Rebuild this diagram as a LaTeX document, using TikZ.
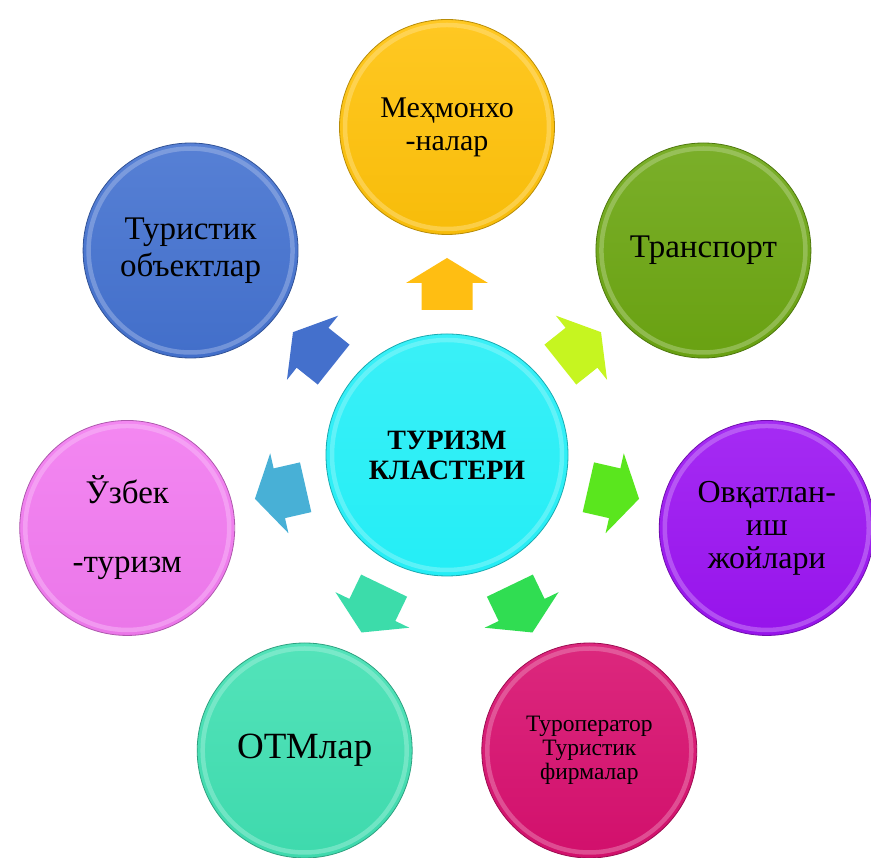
\documentclass[tikz,border=0pt]{standalone}
\usepackage{fontspec}
\newfontfamily\labfont{Liberation Serif}
\definecolor{cCenter}{HTML}{24EEF6}
\definecolor{cYellow}{HTML}{FFC20A}
\definecolor{cOlive}{HTML}{6CA612}
\definecolor{cPurple}{HTML}{9B14F2}
\definecolor{cMagenta}{HTML}{D8106F}
\definecolor{cTeal}{HTML}{40E0B2}
\definecolor{cPink}{HTML}{F27AF0}
\definecolor{cBlue}{HTML}{4472D0}
\definecolor{aYellow}{HTML}{FFBE12}
\definecolor{aLime}{HTML}{C6F520}
\definecolor{aGreen}{HTML}{5AE61E}
\definecolor{aGreen2}{HTML}{30DD52}
\definecolor{aTeal}{HTML}{3CDCAA}
\definecolor{aSky}{HTML}{48B0D6}
\definecolor{aBlue}{HTML}{4470CC}
\newcommand\mybub[6]{%
  \node[bub, top color=#3!90!white, bottom color=#3!97!black,
        font=\labfont\fontsize{#4}{#5}\selectfont] (#1) at ([shift={(#2:328)}]C) {#6};
  \draw[rim=#3] (#1.center) circle (102);
  \draw[edge=#3] (#1.center) circle (107.5);
}
\newcommand\myarrow[3]{%
  \begin{scope}[shift={(C)}, rotate=#1]
    \fill[#2] (145,-25.5) -- (172,-25.5) -- (172,-41) -- (197,0) -- (172,41)
      -- (172,25.5) -- (145,25.5) -- cycle;
    \coordinate (#3) at (171,0);
  \end{scope}
}
\begin{document}
\begin{tikzpicture}[x=1pt,y=1pt,
  bub/.style={circle, minimum size=215, inner sep=0pt, align=center, text=black, shade},
  rim/.style={draw=#1!50!white, line width=4.5, opacity=.5},
  edge/.style={draw=#1!72!black, line width=0.8}]
\useasboundingbox (0,0) rectangle (871,858);
\fill[white] (0,0) rectangle (871,858);
\coordinate (C) at (447,403);

% arrows
\myarrow{90}{aYellow}{a1}
\myarrow{38.571}{aLime}{a2}
\myarrow{-12.857}{aGreen}{a3}
\myarrow{-64.286}{aGreen2}{a4}
\myarrow{-115.714}{aTeal}{a5}
\myarrow{192.857}{aSky}{a6}
\myarrow{141.429}{aBlue}{a7}

% centre
\node[circle, minimum size=242, inner sep=0pt, align=center, text=black,
      top color=cCenter!90!white, bottom color=cCenter,
      font=\labfont\fontsize{28}{30}\selectfont\bfseries] (hub) at (C) {ТУРИЗМ\\КЛАСТЕРИ};
\draw[rim=cCenter] (hub.center) circle (115);
\draw[edge=cCenter] (hub.center) circle (121);

% satellites
\mybub{hotel}{90}{cYellow}{30}{33}{Меҳмонхо\\-налар}
\mybub{trans}{38.571}{cOlive}{33}{37}{Транспорт}
\mybub{food}{-12.857}{cPurple}{32}{33}{Овқатлан-\\иш\\жойлари}
\mybub{tour}{-64.286}{cMagenta}{23.5}{24}{Туроператор\\Туристик\\фирмалар}
\mybub{otm}{-115.714}{cTeal}{37}{40}{ОТМлар}
\mybub{uzb}{192.857}{cPink}{33}{37}{Ўзбек\\[32pt]-туризм}
\mybub{obj}{141.429}{cBlue}{33}{37}{Туристик\\объектлар}
\end{tikzpicture}
\end{document}
